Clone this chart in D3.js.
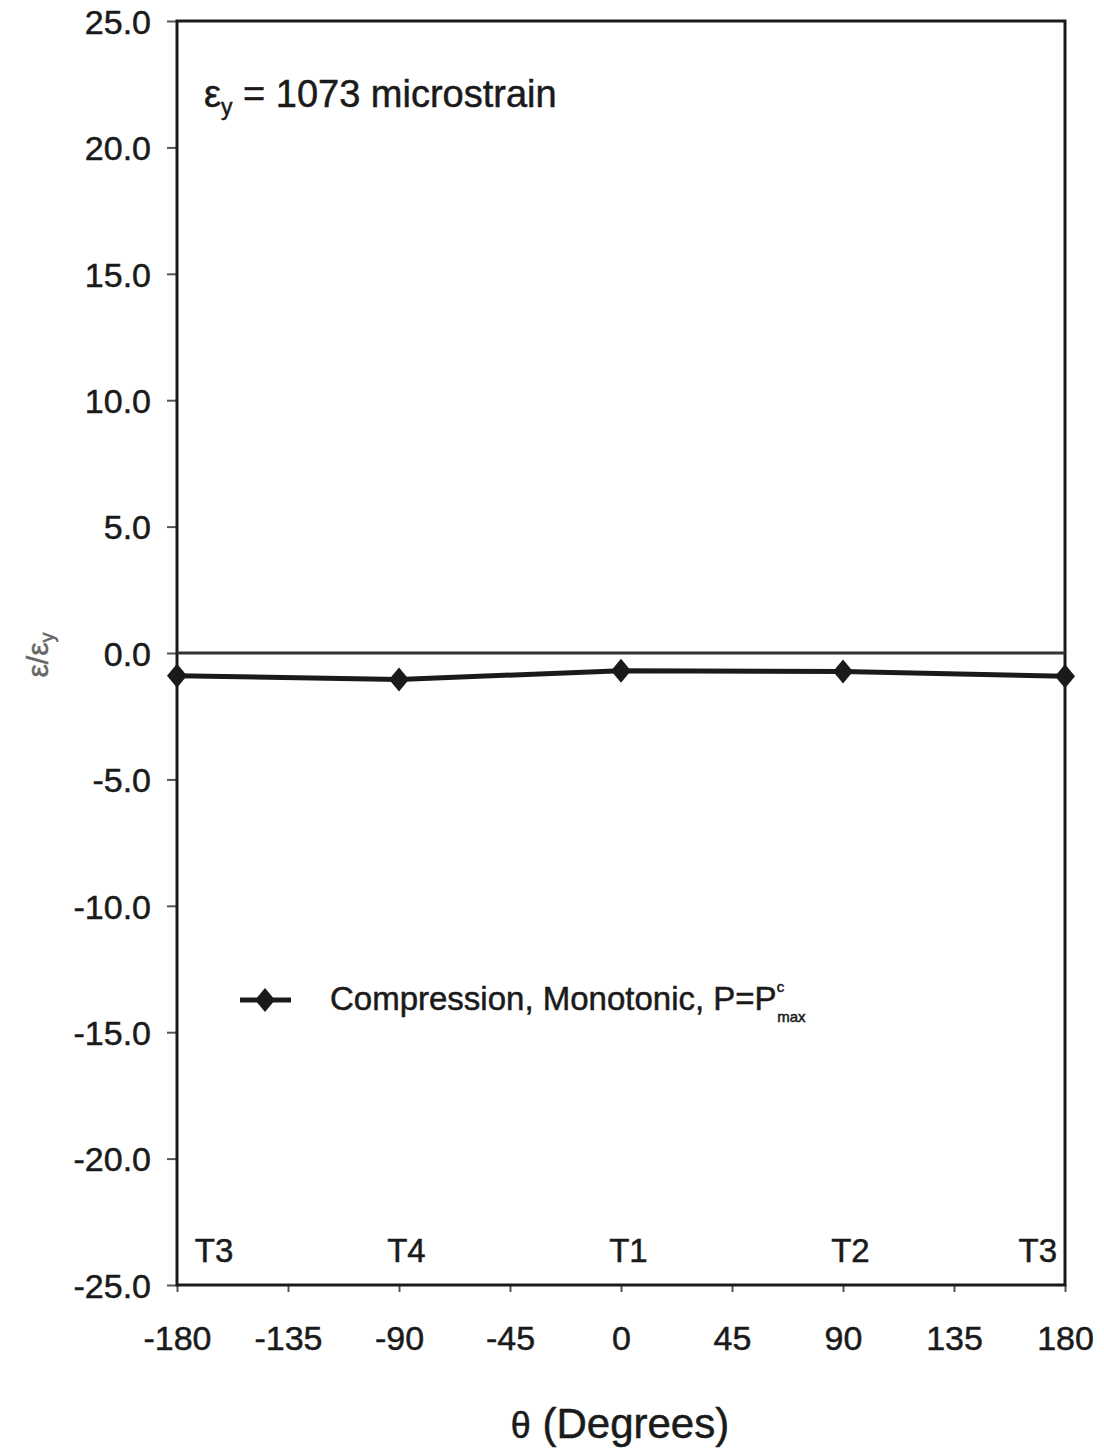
<!DOCTYPE html>
<html><head><meta charset="utf-8">
<script src="https://cdn.jsdelivr.net/npm/d3@7"></script>
<style>body{margin:0;background:#fff}svg{display:block}text{font-family:"Liberation Sans",Arial,sans-serif;fill:#1a1a1a;stroke:#1a1a1a;stroke-width:0.5px}</style>
</head><body><div id="c"></div>
<script>
const angles = [-180, -90, 0, 90, 180];
const strainRatio = [-0.90, -1.05, -0.70, -0.73, -0.92];
const xTicks = [-180, -135, -90, -45, 0, 45, 90, 135, 180];
const yTicks = [25, 20, 15, 10, 5, 0, -5, -10, -15, -20, -25];
const gaugeLabels = ["T3", "T4", "T1", "T2", "T3"];
const gaugeLabelX = [-165, -87, 3, 93, 169];
const seriesName = "Compression, Monotonic, P=P";

const W = 1104, H = 1448;
const m = {l:177, r:1065, t:21, b:1285};
const svg = d3.select("#c").append("svg").attr("width", W).attr("height", H);
const x = d3.scaleLinear().domain([-180, 180]).range([m.l, m.r]);
const y = d3.scaleLinear().domain([-25, 25]).range([m.b, m.t]);
const ink = "#1a1a1a";
const hy = s => s.replace("\u2212", "-");

// y axis
const ya = svg.append("g").attr("transform", `translate(${m.l},0)`)
  .call(d3.axisLeft(y).tickValues(yTicks).tickFormat(d => hy(d3.format(".1f")(d))).tickSize(10).tickPadding(16));
ya.select(".domain").remove();
ya.selectAll("line").attr("stroke", "#555").attr("stroke-width", 2);
ya.selectAll("text").attr("font-size", 34).attr("fill", ink).attr("dy", "0.36em")
  .style("font-family", '"Liberation Sans",Arial,sans-serif');

// x axis
const xa = svg.append("g").attr("transform", `translate(0,${m.b})`)
  .call(d3.axisBottom(x).tickValues(xTicks).tickFormat(d => hy(d3.format("d")(d))).tickSize(7).tickPadding(34));
xa.select(".domain").remove();
xa.selectAll("line").attr("stroke", "#555").attr("stroke-width", 2);
xa.selectAll("text").attr("font-size", 34).attr("fill", ink)
  .style("font-family", '"Liberation Sans",Arial,sans-serif');

// frame
svg.append("rect").attr("x", m.l).attr("y", m.t).attr("width", m.r - m.l).attr("height", m.b - m.t)
  .attr("fill", "none").attr("stroke", ink).attr("stroke-width", 3);

// zero line
svg.append("line").attr("x1", x(-180)).attr("x2", x(180)).attr("y1", y(0)).attr("y2", y(0))
  .attr("stroke", "#333").attr("stroke-width", 3);

// series line
const data = angles.map((a, i) => ({a, v: strainRatio[i]}));
svg.append("path").datum(data)
  .attr("d", d3.line().x(d => x(d.a)).y(d => y(d.v)))
  .attr("fill", "none").attr("stroke", ink).attr("stroke-width", 5);

const diamond = "M0,-12L10,0L0,12L-10,0Z";
svg.selectAll(".pt").data(data).enter().append("path")
  .attr("d", diamond).attr("transform", d => `translate(${x(d.a)},${y(d.v)})`)
  .attr("fill", ink);

// gauge labels
svg.selectAll(".gl").data(gaugeLabels).enter().append("text")
  .attr("x", (d, i) => x(gaugeLabelX[i])).attr("y", 1262)
  .attr("text-anchor", "middle").attr("font-size", 33).text(d => d);

// annotation
const ann = svg.append("text").attr("x", 204).attr("y", 107).attr("font-size", 38);
ann.append("tspan").text("ε");
ann.append("tspan").attr("font-size", 23).attr("dy", 8).text("y");
ann.append("tspan").attr("dy", -8).text(" = 1073 microstrain");

// legend
svg.append("line").attr("x1", 240).attr("x2", 291).attr("y1", 1000).attr("y2", 1000)
  .attr("stroke", ink).attr("stroke-width", 5);
svg.append("path").attr("d", diamond).attr("transform", "translate(265,1000)").attr("fill", ink);
const lg = svg.append("text").attr("x", 330).attr("y", 1010).attr("font-size", 33);
lg.append("tspan").text(seriesName);
lg.append("tspan").attr("font-size", 15).attr("dy", -18).text("c");
lg.append("tspan").attr("font-size", 15).attr("dy", 30).attr("dx", -7).text("max");

// axis titles
const xt = svg.append("text").attr("x", 620).attr("y", 1438).attr("text-anchor", "middle").attr("font-size", 42);
xt.append("tspan").attr("font-size", 36).text("θ");
xt.append("tspan").text(" (Degrees)");

const yt = svg.append("text").attr("transform", "translate(48,655) rotate(-90)")
  .attr("text-anchor", "middle").attr("font-size", 30).style("fill", "#666").style("stroke", "#666");
yt.append("tspan").text("ε/ε");
yt.append("tspan").attr("font-size", 20).attr("dy", 6).text("y");
</script></body></html>
